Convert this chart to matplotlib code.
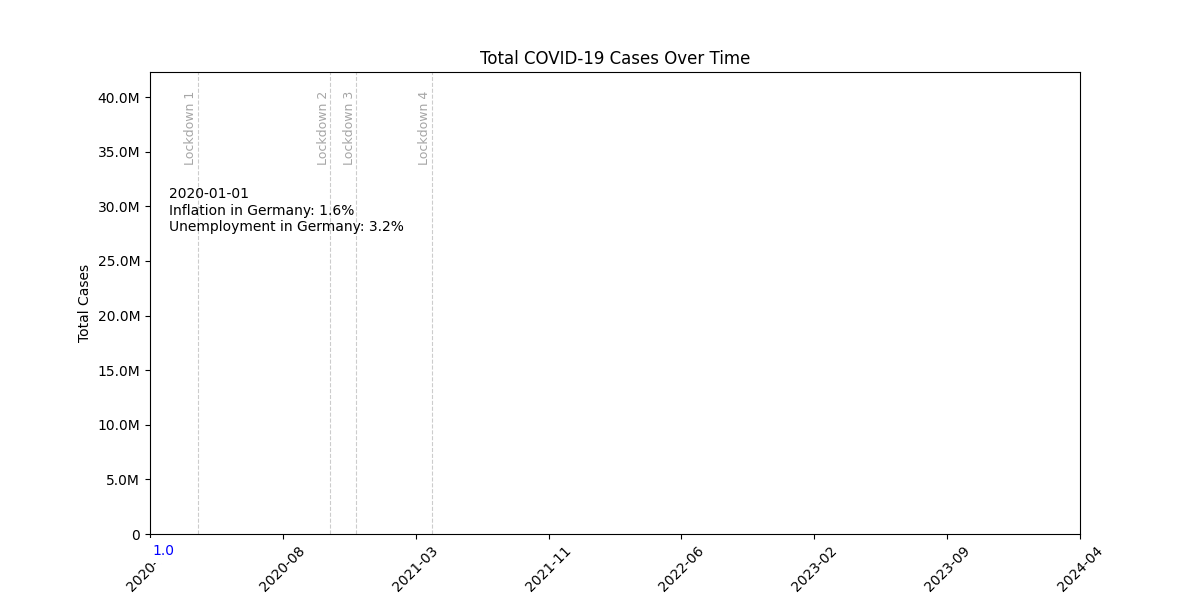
import matplotlib
matplotlib.use("Agg")
import matplotlib.pyplot as plt
import matplotlib.dates as mdates
import matplotlib.ticker as mticker
import numpy as np
import pandas as pd

# Datos del cuadro actual (primer fotograma de la animación)
fechas = pd.to_datetime(["2020-01-01"])
casos = [1.0]

# Fechas de los confinamientos
lockdown_fechas = pd.to_datetime(["2020-03-22", "2020-11-02", "2020-12-16", "2021-04-24"])
lockdown_nombres = ["Lockdown 1", "Lockdown 2", "Lockdown 3", "Lockdown 4"]

# Texto informativo
fecha_actual = "2020-01-01"
inflacion = 1.6
desempleo = 3.2

# Eje x
x_inicio = pd.Timestamp("2020-01-01")
x_fin = pd.Timestamp("2024-04-30")
etiquetas_x = ["2020-01", "2020-08", "2021-03", "2021-11", "2022-06", "2023-02", "2023-09", "2024-04"]
y_max = 42.3e6

fig, ax = plt.subplots(figsize=(12, 6), dpi=100)

ax.plot(fechas, casos, color="blue")
ax.text(fechas[-1], casos[-1], f"{casos[-1]:.1f}", color="blue", fontsize=10,
        ha="left", va="top", clip_on=False, zorder=5,
        bbox=dict(facecolor="white", edgecolor="none", pad=4),
        transform=ax.transData + matplotlib.transforms.ScaledTranslation(1.5/72, -7/72, fig.dpi_scale_trans))

ax.set_xlim(x_inicio, x_fin)
ax.set_ylim(0, y_max)

# Líneas de confinamiento
trans = matplotlib.transforms.blended_transform_factory(ax.transData, ax.transAxes)
for f, nombre in zip(lockdown_fechas, lockdown_nombres):
    ax.axvline(f, color="gray", linestyle="--", linewidth=0.8, alpha=0.4)
    ax.text(f - pd.Timedelta(days=0.5), 0.96, nombre, rotation=90, color="gray", alpha=0.7,
            fontsize=9, ha="right", va="top", transform=trans)

ax.text(0.02, 0.75, f"{fecha_actual}\nInflation in Germany: {inflacion}%\nUnemployment in Germany: {desempleo}%",
        transform=ax.transAxes, fontsize=10, va="top", ha="left")

ticks = np.linspace(mdates.date2num(x_inicio), mdates.date2num(x_fin), len(etiquetas_x))
ax.set_xticks(ticks)
ax.set_xticklabels(etiquetas_x, rotation=45)

ax.yaxis.set_major_locator(mticker.MultipleLocator(5e6))
ax.yaxis.set_major_formatter(mticker.FuncFormatter(lambda v, p: "0" if v == 0 else f"{v/1e6:.1f}M"))

ax.set_title("Total COVID-19 Cases Over Time")
ax.set_ylabel("Total Cases")

plt.savefig("out.png", dpi=100)
